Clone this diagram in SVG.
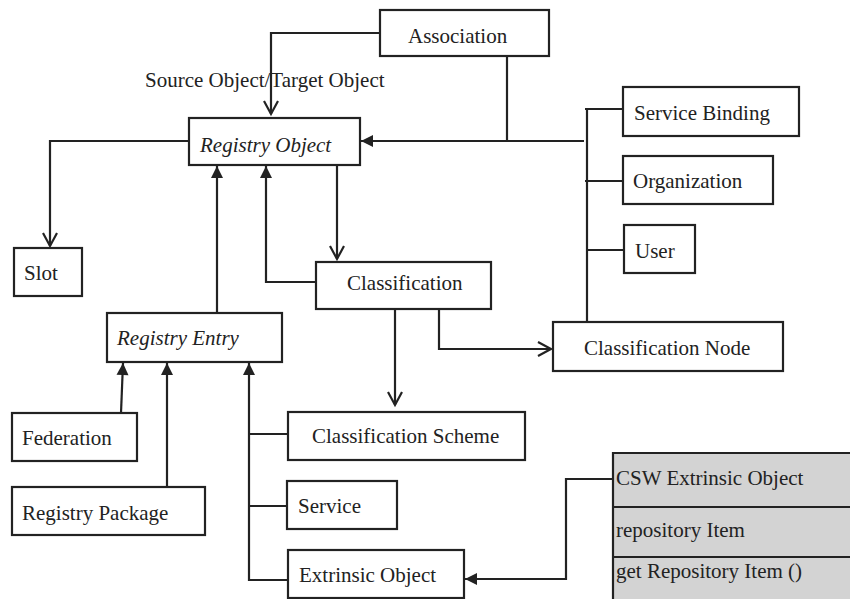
<svg xmlns="http://www.w3.org/2000/svg" width="850" height="599" viewBox="0 0 850 599">
<style>
.box{fill:#fff;stroke:#222;stroke-width:2.2}
.t{font-family:"Liberation Serif","Times New Roman",serif;font-size:21px;fill:#222}
.i{font-style:italic}
.c{fill:none;stroke:#222;stroke-width:2.2}
.fa{marker-end:url(#filled)}
.oa{marker-end:url(#open)}
</style>
<defs>
<marker id="filled" markerUnits="userSpaceOnUse" markerWidth="14" markerHeight="14" refX="12" refY="6" orient="auto" overflow="visible">
<path d="M0,0 L12,6 L0,12 z" fill="#222"/>
</marker>
<marker id="open" markerUnits="userSpaceOnUse" markerWidth="16" markerHeight="16" refX="13" refY="7" orient="auto" overflow="visible">
<path d="M0,0 L13,7 L0,14" fill="none" stroke="#222" stroke-width="2.2"/>
</marker>
</defs>
<rect width="850" height="599" fill="#fff"/>
<g id="connectors">
<path class="c oa" d="M380,33 H271 V114"/>
<path class="c" d="M507,56 V141"/>
<path class="c fa" d="M584,141 H361"/>
<path class="c" d="M587,108 V322"/>
<path class="c" d="M585,109 H623"/>
<path class="c" d="M585,181 H623"/>
<path class="c" d="M587,250 H624"/>
<path class="c oa" d="M189,141 H50 V246"/>
<path class="c fa" d="M217,313 V166"/>
<path class="c fa" d="M316,282 H266 V166"/>
<path class="c oa" d="M337,165 V259"/>
<path class="c oa" d="M395,309 V405"/>
<path class="c oa" d="M439,309 V349 H551"/>
<path class="c fa" d="M121,413 L123,363"/>
<path class="c fa" d="M167,487 V363"/>
<path class="c fa" d="M288,580 H249 V363"/>
<path class="c" d="M249,434 H288"/>
<path class="c" d="M249,506 H287"/>
<path class="c fa" d="M613,479 H566 V579 H465"/>
</g>
<text class="t" x="145" y="87">Source Object/Target Object</text>
<g id="association"><rect class="box" x="380" y="10" width="169" height="46"/><text class="t" x="408" y="43">Association</text></g>
<g id="registry-object"><rect class="box" x="189" y="118" width="171" height="47"/><text class="t i" x="200" y="152">Registry Object</text></g>
<g id="slot"><rect class="box" x="14" y="248" width="68" height="48"/><text class="t" x="24" y="280">Slot</text></g>
<g id="classification"><rect class="box" x="316" y="262" width="175" height="47"/><text class="t" x="347" y="290">Classification</text></g>
<g id="service-binding"><rect class="box" x="623" y="87" width="176" height="49"/><text class="t" x="634" y="120">Service Binding</text></g>
<g id="organization"><rect class="box" x="623" y="156" width="150" height="48"/><text class="t" x="633" y="188">Organization</text></g>
<g id="user"><rect class="box" x="624" y="225" width="71" height="48"/><text class="t" x="635" y="258">User</text></g>
<g id="classification-node"><rect class="box" x="553" y="322" width="230" height="49"/><text class="t" x="584" y="355">Classification Node</text></g>
<g id="registry-entry"><rect class="box" x="107" y="313" width="175" height="49"/><text class="t i" x="117" y="345">Registry Entry</text></g>
<g id="federation"><rect class="box" x="12" y="413" width="125" height="48"/><text class="t" x="22" y="445">Federation</text></g>
<g id="registry-package"><rect class="box" x="12" y="487" width="193" height="48"/><text class="t" x="22" y="520">Registry Package</text></g>
<g id="classification-scheme"><rect class="box" x="288" y="412" width="237" height="48"/><text class="t" x="312" y="443">Classification Scheme</text></g>
<g id="service"><rect class="box" x="287" y="481" width="110" height="48"/><text class="t" x="298" y="513">Service</text></g>
<g id="extrinsic-object"><rect class="box" x="288" y="550" width="176" height="48"/><text class="t" x="299" y="582">Extrinsic Object</text></g>
<g id="csw-extrinsic-object">
<rect x="613" y="453" width="240" height="150" fill="#d3d3d3"/>
<path class="c" d="M613,600 V453 H850"/>
<path class="c" d="M613,507 H850 M613,557 H850"/>
<text class="t" x="616" y="485">CSW Extrinsic Object</text>
<text class="t" x="616" y="537">repository Item</text>
<text class="t" x="616" y="578">get Repository Item ()</text>
</g>
</svg>
